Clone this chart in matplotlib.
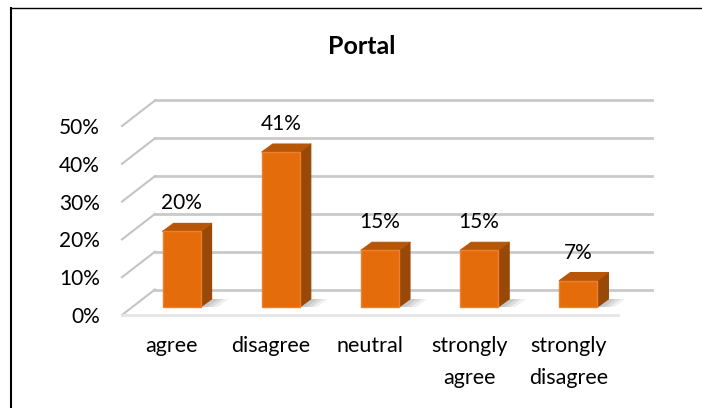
import matplotlib
matplotlib.use("Agg")
import matplotlib.pyplot as plt
from matplotlib.patches import Polygon
from matplotlib.lines import Line2D

categories = ["agree", "disagree", "neutral", "strongly\nagree", "strongly\ndisagree"]
values = [20, 41, 15, 15, 7]
value_labels = ["20%", "41%", "15%", "15%", "7%"]
y_ticks = [0, 10, 20, 30, 40, 50]
y_tick_labels = ["0%", "10%", "20%", "30%", "40%", "50%"]

W, H = 702, 408
plt.rcParams["font.family"] = ["Lato", "DejaVu Sans"]

fig = plt.figure(figsize=(W / 100, H / 100), dpi=100)
# front plane of the floor, in pixels : x 122-618, y 315 up to 126
ax = fig.add_axes([122 / W, 1 - 315 / H, 496 / W, 189 / H])
ax.set_xlim(-0.5, 4.5)
ax.set_ylim(0, 50)
for s in ax.spines.values():
    s.set_visible(False)

# pixel -> data
px_x = 5 / 496
px_y = 50 / 189


def depth(x, y, dx, dy):
    return x + dx * px_x, y + dy * px_y


# gridlines with their diagonal
for t in y_ticks:
    x1, y1 = depth(-0.5, t, 33, 25.5)
    x2, y2 = depth(4.5, t, 34, 25.5)
    ax.plot([-0.5, x1], [t, y1], color="#c4c4c4", lw=1.5, clip_on=False, zorder=1)
    ax.plot([x1, x2], [y1, y2], color="#c4c4c4", lw=2, clip_on=False, zorder=1, alpha=0.9)
ax.plot([-0.5, 4.5], [0, 0], color="#e6e6e6", lw=2, clip_on=False, zorder=1)

half = 19 * px_x
for i, v in enumerate(values):
    # bar front sits 10px right and 8px up from the front floor edge
    xl, yb = depth(i - half, 0, 10, 8)
    xr, _ = depth(i + half, 0, 10, 8)
    yt = v + 8 * px_y
    ox, oy = 11 * px_x, 8 * px_y
    # soft shadow on the floor
    for grow, a in [(17, 0.2), (12, 0.3), (7, 0.4)]:
        ax.add_patch(Polygon([(xr, yb), (xr + ox, yb + oy), (xr + ox + grow * px_x, yb + oy), (xr + grow * px_x, yb)],
                             fc="#b0b0b0", ec="none", alpha=a, clip_on=False, zorder=2))
    ax.bar((xl + xr) / 2, yt - yb, bottom=yb, width=xr - xl, color="#e46c0a",
           edgecolor="#ec8030", linewidth=1.0, zorder=4, clip_on=False)
    ax.add_patch(Polygon([(xr, yb), (xr + ox, yb + oy), (xr + ox, yt + oy), (xr, yt)],
                         fc="#984807", ec="#984807", lw=0.8, joinstyle="round", clip_on=False, zorder=3))
    ax.add_patch(Polygon([(xl, yt), (xl + ox, yt + oy), (xr + ox, yt + oy), (xr, yt)],
                         fc="#b85607", ec="#b85607", lw=0.8, joinstyle="round", clip_on=False, zorder=3))
    ax.text(i + 10 * px_x, yt + oy + 20 * px_y, value_labels[i], ha="center", va="center",
            fontsize=15, color="black", zorder=5)

ax.set_xticks(range(5))
ax.set_xticklabels(categories, fontsize=15.5, linespacing=1.75)
ax.set_yticks(y_ticks)
ax.set_yticklabels(y_tick_labels, fontsize=15)
ax.tick_params(axis="both", length=0, colors="black")
ax.tick_params(axis="x", pad=15)
ax.tick_params(axis="y", pad=16)

fig.text(362 / W, 1 - 47 / H, "Portal", ha="center", va="center", fontsize=18, fontweight="bold")

# image border, left and top only
fig.add_artist(Line2D([11 / W, 11 / W], [0, 1 - 8 / H], color="black", lw=1.5))
fig.add_artist(Line2D([11 / W, 1], [1 - 8 / H, 1 - 8 / H], color="black", lw=1.0))

fig.savefig("out.png", dpi=100)
